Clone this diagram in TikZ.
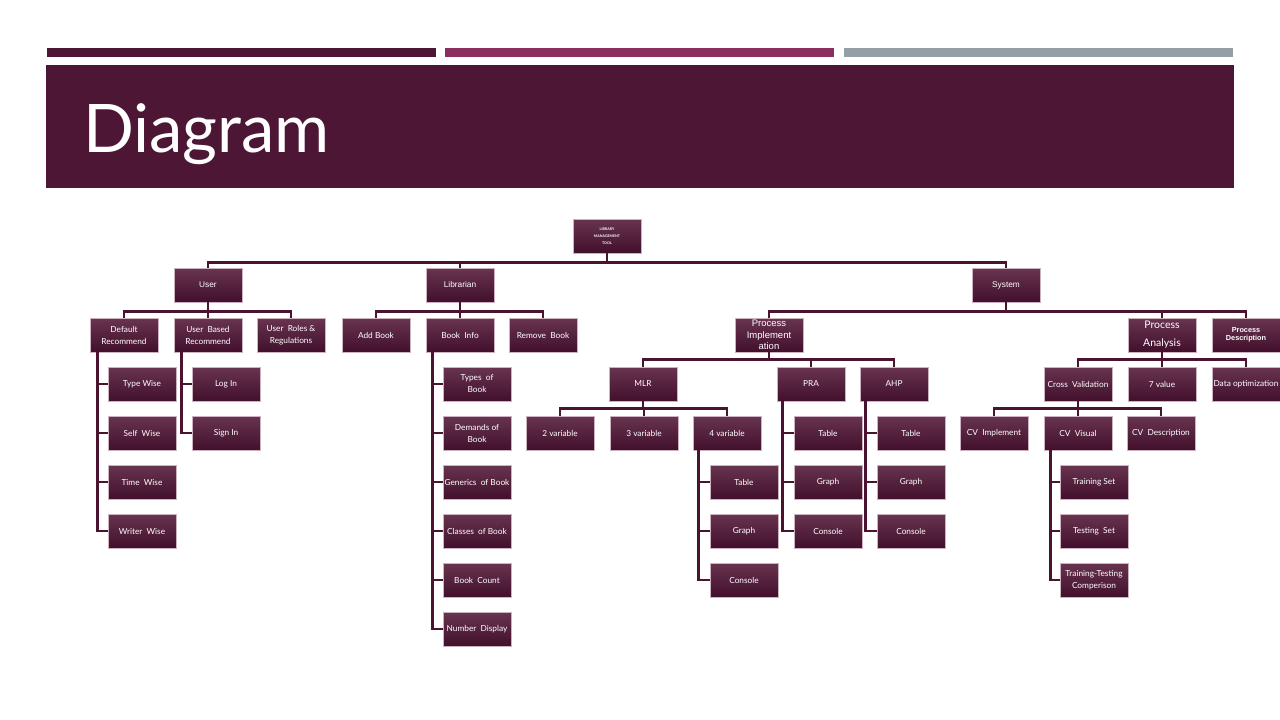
\documentclass[tikz,border=0pt]{standalone}
\usepackage{fontspec}
\setmainfont{Lato}
\newfontfamily\arialf{Liberation Sans}
\usetikzlibrary{positioning}
\definecolor{plum}{RGB}{78,22,53}
\definecolor{plumbar}{RGB}{139,47,96}
\definecolor{greybar}{RGB}{148,158,165}
\definecolor{tiletop}{RGB}{104,52,80}
\definecolor{tilebot}{RGB}{66,16,44}
\definecolor{tileedge}{RGB}{205,178,192}
\definecolor{linkc}{RGB}{74,20,48}
\tikzset{
  tile/.style={draw=tileedge,line width=0.6pt,top color=tiletop,bottom color=tilebot,
    minimum width=68pt,minimum height=34pt,inner sep=0.5pt,text=white,align=center,
    font=\fontsize{8.3}{12}\selectfont},
  headtile/.style={tile,font=\arialf\fontsize{8.3}{9}\selectfont},
  link/.style={linkc,line width=2.6pt},
}

\begin{document}
\begin{tikzpicture}[x=1pt,y=-1pt]
  \useasboundingbox (0,0) rectangle (1280,720);
  % banner
  \fill[plum] (47,48) rectangle (436,57);
  \fill[plumbar] (445,48) rectangle (834,57);
  \fill[greybar] (844,48) rectangle (1233,57);
  \fill[plum] (46,65) rectangle (1234,188);
  \node[anchor=base west,text=white,font=\fontsize{67}{75}\selectfont,inner sep=0pt] (title) at (83,152) {Diagram};

  % top levels
  \node[tile,font=\bfseries\fontsize{3.6}{7}\selectfont] (root) at (607,236) {LIBRARY\\MANAGEMENT\\TOOL};
  \node[headtile] (user) at (208,285) {User};
  \node[headtile] (librarian) at (460,285) {Librarian};
  \node[headtile] (system) at (1006,285) {System};
  \foreach \c in {user,librarian,system}
    \draw[link] (root.south) -- ++(0,9) -| (\c.north);

  % user
  \node[tile] (defrec) at (124,335) {Default\\Recommend};
  \node[tile] (userrec) at (208,335) {User\ \ Based\\Recommend};
  \node[tile] (roles) at (291,335) {User\ \ Roles \&\\Regulations};
  \foreach \c in {defrec,userrec,roles}
    \draw[link] (user.south) -- ++(0,9) -| (\c.north);
  \foreach \lab [count=\i] in {Type Wise,Self\ \ Wise,Time\ \ Wise,Writer\ \ Wise}{
    \node[tile] (dr\i) at (142,335+49*\i) {\lab};
    \draw[link] ([xshift=8pt]defrec.south west) |- (dr\i.west);
  }
  \foreach \lab [count=\i] in {Log In,Sign In}{
    \node[tile] (ur\i) at (226,335+49*\i) {\lab};
    \draw[link] ([xshift=8pt]userrec.south west) |- (ur\i.west);
  }

  % librarian
  \node[tile] (addbook) at (376,335) {Add Book};
  \node[tile] (bookinfo) at (460,335) {Book\ \ Info};
  \node[tile] (removebook) at (543,335) {Remove\ \ Book};
  \foreach \c in {addbook,bookinfo,removebook}
    \draw[link] (librarian.south) -- ++(0,9) -| (\c.north);
  \foreach \lab [count=\i] in {{Types\ \ of\\Book},{Demands of\\Book},Generics\ \ of Book,
      Classes\ \ of Book,Book\ \ Count,Number\ \ Display}{
    \node[tile] (bi\i) at (477,335+49*\i) {\lab};
    \draw[link] ([xshift=7pt]bookinfo.south west) |- (bi\i.west);
  }

  % system
  \node[tile,font=\arialf\fontsize{9.5}{11.5}\selectfont] (procimpl) at (769,335) {Process\\Implement\\ation};
  \node[tile,font=\fontsize{10.5}{18}\selectfont] (procana) at (1162,335) {Process\\Analysis};
  \node[tile,font=\arialf\bfseries\fontsize{7.3}{8}\selectfont] (procdesc) at (1246,335) {Process\\Description};
  \foreach \c in {procimpl,procana,procdesc}
    \draw[link] (system.south) -- ++(0,9) -| (\c.north);

  % process implementation
  \node[tile] (mlr) at (643,384) {MLR};
  \node[tile] (pra) at (811,384) {PRA};
  \node[tile] (ahp) at (894,384) {AHP};
  \foreach \c in {mlr,pra,ahp}
    \draw[link] (procimpl.south) -- ++(0,7) -| (\c.north);
  \node[tile] (var2) at (560,433) {2 variable};
  \node[tile] (var3) at (644,433) {3 variable};
  \node[tile] (var4) at (727,433) {4 variable};
  \foreach \c in {var2,var3,var4}
    \draw[link] (mlr.south) -- ++(0,7) -| (\c.north);
  \foreach \lab [count=\i] in {Table,Graph,Console}{
    \node[tile] (vf\i) at (744,433+49*\i) {\lab};
    \draw[link] ([xshift=6pt]var4.south west) |- (vf\i.west);
    \node[tile] (pr\i) at (828,384+49*\i) {\lab};
    \draw[link] ([xshift=6pt]pra.south west) |- (pr\i.west);
    \node[tile] (ah\i) at (911,384+49*\i) {\lab};
    \draw[link] ([xshift=6pt]ahp.south west) |- (ah\i.west);
  }

  % process analysis
  \node[tile] (crossval) at (1078,384) {Cross\ \ Validation};
  \node[tile] (sevenval) at (1162,384) {7 value};
  \node[tile] (dataopt) at (1246,384) {Data optimization};
  \foreach \c in {crossval,sevenval,dataopt}
    \draw[link] (procana.south) -- ++(0,7) -| (\c.north);
  \node[tile] (cvimpl) at (994,433) {CV\ \ Implement};
  \node[tile] (cvvis) at (1078,433) {CV\ \ Visual};
  \node[tile] (cvdesc) at (1161,433) {CV\ \ Description};
  \foreach \c in {cvimpl,cvvis,cvdesc}
    \draw[link] (crossval.south) -- ++(0,7) -| (\c.north);
  \foreach \lab [count=\i] in {Training Set,Testing\ \ Set,{Training-Testing\\Comperison}}{
    \node[tile] (cv\i) at (1094,433+49*\i) {\lab};
    \draw[link] ([xshift=7pt]cvvis.south west) |- (cv\i.west);
  }
\end{tikzpicture}
\end{document}
